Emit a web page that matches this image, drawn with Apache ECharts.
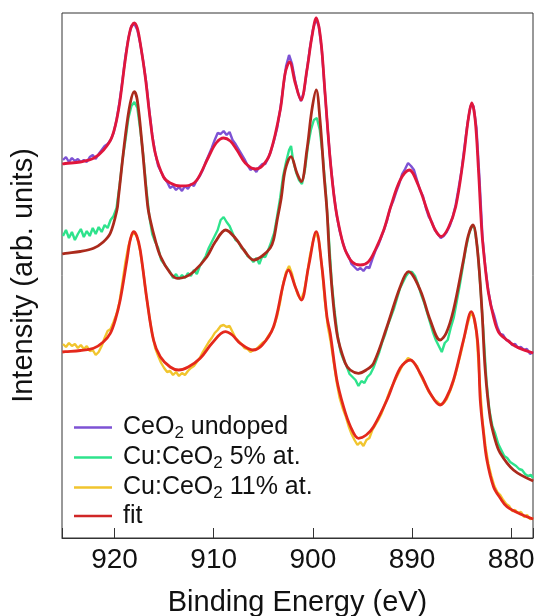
<!DOCTYPE html>
<html>
<head>
<meta charset="utf-8">
<script src="https://cdn.jsdelivr.net/npm/echarts@6/dist/echarts.min.js"></script>
<style>
html,body{margin:0;padding:0;background:#fff;}
#chart{width:537px;height:616px;}
</style>
</head>
<body>
<div id="chart"></div>
<script>
// Binding energy (eV), intensity (arb. units)
const seriesNames = ['CeO2 undoped', 'Cu:CeO2 5% at.', 'Cu:CeO2 11% at.', 'fit'];
const xTicks = [880, 890, 900, 910, 920];

const undopedData = [
[925.2,378],[924.9,381],[924.6,376],[924.3,380],[924.0,377],[923.7,379],[923.4,376],[923.1,378],[922.8,376],[922.5,381],
[922.2,383],[921.9,379],[921.6,384],[921.3,388],[921.0,392],[920.7,394],[920.4,398],[920.1,405],[919.8,418],[919.5,436],
[919.2,458],[918.9,482],[918.6,500],[918.3,512],[918.0,514],[917.7,508],[917.4,494],[917.1,476],[916.8,455],[916.5,428],
[916.2,403],[915.9,385],[915.6,372],[915.3,366],[915.0,360],[914.7,356],[914.4,350],[914.1,352],[913.8,348],[913.5,351],
[913.2,347],[912.9,352],[912.6,349],[912.3,354],[912.0,352],[911.7,358],[911.4,362],[911.1,368],[910.8,376],[910.5,383],
[910.2,390],[909.9,398],[909.6,405],[909.3,404],[909.0,407],[908.7,403],[908.4,406],[908.1,398],[907.8,394],[907.5,389],
[907.2,384],[906.9,379],[906.6,373],[906.3,368],[906.0,370],[905.7,366],[905.4,371],[905.1,374],[904.8,374],[904.5,380],
[904.2,388],[903.9,398],[903.6,410],[903.3,428],[903.0,450],[902.7,472],[902.4,483],[902.1,474],[901.8,458],[901.5,445],
[901.2,437],[900.9,446],[900.6,468],[900.3,490],[900.0,508],[899.7,519],[899.4,512],[899.1,488],[898.8,448],[898.5,408],
[898.2,373],[897.9,345],[897.6,323],[897.3,307],[897.0,296],[896.7,287],[896.4,282],[896.1,274],[895.8,271],[895.5,268],
[895.2,270],[894.9,267],[894.6,271],[894.3,270],[894.0,279],[893.7,287],[893.4,293],[893.1,301],[892.8,309],[892.5,318],
[892.2,330],[891.9,337],[891.6,346],[891.3,354],[891.0,364],[890.7,369],[890.4,375],[890.1,372],[889.8,368],[889.5,358],
[889.2,348],[888.9,342],[888.6,330],[888.3,321],[888.0,316],[887.7,308],[887.4,304],[887.1,300],[886.8,302],[886.5,306],
[886.2,312],[885.9,321],[885.6,333],[885.3,350],[885.0,368],[884.7,392],[884.4,415],[884.1,432],[883.8,432],[883.5,410],
[883.2,360],[882.9,302],[882.6,270],[882.3,247],[882.0,231],[881.7,222],[881.4,211],[881.1,204],[880.8,203],[880.5,198],
[880.2,197],[879.9,193],[879.6,194],[879.3,190],[879.0,191],[878.7,188],[878.4,189],[878.1,184],[877.8,186]
];

const cu5Data = [
[925.2,302],[924.9,308],[924.6,300],[924.3,306],[924.0,298],[923.7,304],[923.4,309],[923.1,301],[922.8,307],[922.5,302],
[922.2,310],[921.9,304],[921.6,311],[921.3,306],[921.0,313],[920.7,310],[920.4,318],[920.1,322],[919.8,330],[919.5,352],
[919.2,378],[918.9,398],[918.6,420],[918.3,432],[918.0,436],[917.7,430],[917.4,408],[917.1,382],[916.8,350],[916.5,322],
[916.2,304],[915.9,296],[915.6,290],[915.3,278],[915.0,274],[914.7,270],[914.4,266],[914.1,260],[913.8,264],[913.5,259],
[913.2,263],[912.9,260],[912.6,265],[912.3,262],[912.0,268],[911.7,264],[911.4,272],[911.1,277],[910.8,282],[910.5,290],
[910.2,296],[909.9,302],[909.6,308],[909.3,318],[909.0,321],[908.7,316],[908.4,312],[908.1,305],[907.8,298],[907.5,296],
[907.2,290],[906.9,288],[906.6,282],[906.3,280],[906.0,276],[905.7,280],[905.4,274],[905.1,282],[904.8,281],[904.5,288],
[904.2,296],[903.9,305],[903.6,322],[903.3,340],[903.0,362],[902.7,376],[902.4,388],[902.2,392],[902.0,378],[901.7,366],
[901.4,358],[901.1,354],[900.8,368],[900.5,392],[900.2,408],[899.9,418],[899.6,420],[899.3,408],[899.0,382],[898.7,346],
[898.4,302],[898.1,256],[897.8,226],[897.5,202],[897.2,186],[896.9,178],[896.6,172],[896.3,164],[896.0,161],[895.7,158],
[895.4,152],[895.1,157],[894.8,155],[894.5,161],[894.2,164],[893.9,170],[893.6,178],[893.3,186],[893.0,196],[892.7,204],
[892.4,214],[892.1,222],[891.8,230],[891.5,240],[891.2,250],[890.9,256],[890.6,262],[890.3,266],[890.0,266],[889.7,262],
[889.4,254],[889.1,244],[888.8,236],[888.5,226],[888.2,216],[887.9,206],[887.6,198],[887.3,192],[887.0,186],[886.7,195],
[886.4,198],[886.1,210],[885.8,220],[885.5,236],[885.2,252],[884.9,270],[884.6,288],[884.3,302],[884.0,312],[883.7,310],
[883.4,290],[883.1,250],[882.8,206],[882.5,158],[882.2,128],[881.9,112],[881.6,104],[881.3,94],[881.0,88],[880.7,82],
[880.4,80],[880.1,76],[879.8,74],[879.5,72],[879.2,69],[878.9,68],[878.6,64],[878.3,62],[878.0,63],[877.8,60]
];

const cu11Data = [
[925.2,194],[924.9,191],[924.6,195],[924.3,192],[924.0,194],[923.7,190],[923.4,193],[923.1,189],[922.8,192],[922.5,187],
[922.2,188],[921.9,183],[921.6,186],[921.3,192],[921.0,200],[920.7,207],[920.4,209],[920.1,216],[919.8,224],[919.5,236],
[919.2,256],[918.9,276],[918.6,292],[918.3,302],[918.0,306],[917.7,300],[917.4,286],[917.1,266],[916.8,242],[916.5,222],
[916.2,204],[915.9,190],[915.6,182],[915.3,175],[915.0,170],[914.7,166],[914.4,167],[914.1,163],[913.8,166],[913.5,162],
[913.2,165],[912.9,163],[912.6,167],[912.3,170],[912.0,172],[911.7,176],[911.4,180],[911.1,186],[910.8,191],[910.5,196],
[910.2,200],[909.9,205],[909.6,208],[909.3,212],[909.0,213],[908.7,211],[908.4,212],[908.1,206],[907.8,200],[907.5,197],
[907.2,194],[906.9,190],[906.6,189],[906.3,186],[906.0,188],[905.7,189],[905.4,192],[905.1,195],[904.8,197],[904.5,202],
[904.2,206],[903.9,212],[903.6,222],[903.3,236],[903.0,254],[902.7,266],[902.4,272],[902.1,264],[901.8,252],[901.5,243],
[901.2,238],[900.9,246],[900.6,262],[900.3,282],[900.0,296],[899.7,306],[899.4,298],[899.1,272],[898.8,238],[898.5,212],
[898.2,196],[897.9,176],[897.6,156],[897.3,140],[897.0,130],[896.7,122],[896.4,112],[896.1,104],[895.8,98],[895.5,93],
[895.2,96],[894.9,92],[894.6,98],[894.3,100],[894.0,108],[893.7,113],[893.4,118],[893.1,124],[892.8,132],[892.5,140],
[892.2,148],[891.9,154],[891.6,160],[891.3,166],[891.0,172],[890.7,176],[890.4,180],[890.1,178],[889.8,175],[889.5,172],
[889.2,164],[888.9,158],[888.6,152],[888.3,146],[888.0,142],[887.7,138],[887.4,136],[887.1,133],[886.8,135],[886.5,139],
[886.2,146],[885.9,154],[885.6,164],[885.3,176],[885.0,188],[884.7,202],[884.4,214],[884.1,224],[883.8,222],[883.5,206],
[883.2,160],[882.9,118],[882.6,92],[882.3,74],[882.0,62],[881.7,52],[881.4,46],[881.1,43],[880.8,38],[880.5,34],
[880.2,32],[879.9,27],[879.6,28],[879.3,25],[879.0,26],[878.7,21],[878.4,23],[878.1,19],[877.8,20]
];

const undopedFit = [
[925.27,374],[924.97,374.5],[923.46,376],[922.12,379.7],[921.11,388],[920.26,401],[919.60,428],[918.92,478],[918.42,508],[918.01,515],
[917.71,510],[917.41,495],[916.90,461],[916.40,418],[915.90,385],[915.06,361],[914.39,355],[913.38,352],[912.37,353],[911.69,358],
[910.52,381],[909.75,395],[909.01,400],[908.33,397],[907.66,388],[906.82,375],[905.81,369],[905.11,372],[904.30,385],[903.29,428],
[902.79,465],[902.35,476],[901.78,455],[901.20,438],[900.60,468],[900.10,501],[899.66,520],[899.20,498],[898.76,443],[898.25,378],
[897.75,333],[897.24,306],[896.74,288],[896.03,276],[895.23,273],[894.42,276],[893.71,288],[892.85,308],[892.16,331],[891.19,358],
[890.28,368],[889.38,353],[888.37,325],[887.66,308],[887.06,301.5],[886.35,310],[885.60,331],[884.84,378],[884.34,418],[883.98,435],
[883.63,418],[883.30,368],[882.95,305],[882.62,271],[882.29,245],[881.78,221],[881.28,206],[880.43,198],[879.43,191],[877.78,185]
];

const cu5Fit = [
[925.27,284],[924.97,284.7],[923.46,286.5],[922.12,289.7],[921.14,296],[920.43,304.7],[919.76,328],[919.60,341.3],[918.92,401.3],[918.42,434.7],
[918.01,446.3],[917.71,438],[917.24,395],[916.67,333],[916.40,318],[915.90,298],[915.39,282],[914.39,265],[913.68,259.7],[912.87,261],
[912.03,266.3],[910.68,281.3],[909.85,296],[908.79,308],[907.83,300],[906.82,286],[905.98,278],[905.11,282],[904.30,290],[903.97,298],
[903.60,318],[903.19,340],[902.79,368],[902.21,381.3],[901.61,365],[901.17,356.3],[900.60,388],[900.10,428],[899.66,448],[899.28,418],
[898.86,361.3],[898.58,328],[898.25,271.3],[897.58,205],[896.74,175],[896.23,168],[895.40,164.7],[894.62,168],[893.88,174.7],[892.53,211.3],
[891.19,251.3],[890.36,266.3],[889.18,248],[888.17,218],[887.17,198],[886.55,205],[885.82,228],[884.81,278],[884.34,302],[883.86,313],
[883.40,288],[882.95,228],[882.62,168],[882.12,120],[881.61,98],[881.11,85],[879.77,68],[877.78,57]
];

const cu11Fit = [
[925.27,186],[924.97,186.3],[923.46,187.5],[922.12,189.7],[921.14,196],[920.43,204.7],[919.93,218],[919.43,238],[918.75,278],[918.42,298],
[918.08,306.3],[917.76,302],[917.41,288],[916.73,238],[916.07,198],[915.39,181.3],[914.39,171],[913.55,168],[912.57,171],[911.36,179.7],
[910.15,195],[908.84,206.3],[908.13,203],[907.33,194.7],[906.04,188],[905.11,193],[903.97,211.3],[902.96,254.7],[902.46,268],[901.78,251.3],
[901.17,238],[900.44,271.3],[899.66,306.3],[899.09,271.3],[898.58,221.3],[898.25,204.7],[897.58,158],[896.91,131.3],[896.23,112],[895.40,99.7],
[894.62,103],[893.88,111.3],[892.53,138],[891.19,170],[890.18,178],[889.18,164.7],[888.17,144.7],[887.17,133],[886.55,140],[885.82,158],
[884.81,198],[884.03,226.3],[883.40,198],[883.12,138],[882.79,104.7],[882.45,78],[881.78,51.3],[881.11,40],[880.43,31.3],[879.09,24],[877.78,19]
];

const colors = {
  undoped: '#7d52d4',
  cu5: '#2ee38c',
  cu11: '#f1c52e',
  fitLegend: '#d02626',
  fitTop: '#e0163c',
  fitMid: '#ab2a1c',
  fitBot: '#e4281c'
};

const chart = echarts.init(document.getElementById('chart'), null, {renderer: 'canvas'});
const FONT = '"Liberation Sans", Arial, Helvetica, sans-serif';

function dataLine(name, data, color) {
  return {type: 'line', name: name, data: data, symbol: 'none', showSymbol: false,
    lineStyle: {color: color, width: 2.4}, itemStyle: {color: color}, z: 2, silent: true};
}
function fitLine(data, color) {
  return {type: 'line', name: 'fit', data: data, symbol: 'none', showSymbol: false, smooth: 0.35,
    lineStyle: {color: color, width: 2.8}, itemStyle: {color: color}, z: 3, silent: true};
}

const legendLabels = {
  'CeO2 undoped': 'CeO{sub|2} undoped',
  'Cu:CeO2 5% at.': 'Cu:CeO{sub|2} 5% at.',
  'Cu:CeO2 11% at.': 'Cu:CeO{sub|2} 11% at.',
  'fit': 'fit'
};

chart.setOption({
  animation: false,
  backgroundColor: '#fff',
  grid: {left: 62, right: 4, top: 13, bottom: 78, show: true, borderColor: '#333', borderWidth: 1,
    backgroundColor: 'transparent', containLabel: false, outerBoundsMode: 'none'},
  legend: {
    orient: 'vertical', left: 74, top: 413, padding: 0, itemGap: 1,
    icon: 'rect', itemWidth: 38, itemHeight: 2.5,
    data: [
      {name: seriesNames[0], itemStyle: {color: colors.undoped}},
      {name: seriesNames[1], itemStyle: {color: colors.cu5}},
      {name: seriesNames[2], itemStyle: {color: colors.cu11}},
      {name: seriesNames[3], itemStyle: {color: colors.fitLegend}}
    ],
    formatter: n => legendLabels[n],
    selectedMode: false,
    textStyle: {
      fontFamily: FONT, fontSize: 25, color: '#111', lineHeight: 26, padding: [0, 0, 0, 6],
      rich: {
        sub: {fontFamily: FONT, fontSize: 17, color: '#111', lineHeight: 17, padding: [12, 0, 0, 0]}
      }
    }
  },
  xAxis: {
    type: 'value', inverse: true, min: 877.8, max: 925.3,
    splitLine: {show: false},
    axisLine: {show: true, lineStyle: {color: '#333', width: 1}},
    axisTick: {show: true, inside: true, length: 10, lineStyle: {color: '#333', width: 1}},
    axisLabel: {fontFamily: FONT, fontSize: 28, color: '#111', margin: 8,
      formatter: v => (xTicks.indexOf(Math.round(v * 1000) / 1000) >= 0 ? String(v) : '')},
    name: 'Binding Energy (eV)', nameLocation: 'middle', nameGap: 50,
    nameTextStyle: {fontFamily: FONT, fontSize: 29, color: '#111'}
  },
  yAxis: {
    type: 'value', min: 0, max: 525,
    axisLine: {show: false}, axisTick: {show: false}, axisLabel: {show: false}, splitLine: {show: false},
    name: 'Intensity (arb. units)', nameLocation: 'middle', nameGap: 24, nameRotate: 90,
    nameTextStyle: {fontFamily: FONT, fontSize: 29, color: '#111'}
  },
  series: [
    dataLine(seriesNames[0], undopedData, colors.undoped),
    dataLine(seriesNames[1], cu5Data, colors.cu5),
    dataLine(seriesNames[2], cu11Data, colors.cu11),
    fitLine(undopedFit, colors.fitTop),
    fitLine(cu5Fit, colors.fitMid),
    fitLine(cu11Fit, colors.fitBot)
  ]
});
</script>
</body>
</html>
